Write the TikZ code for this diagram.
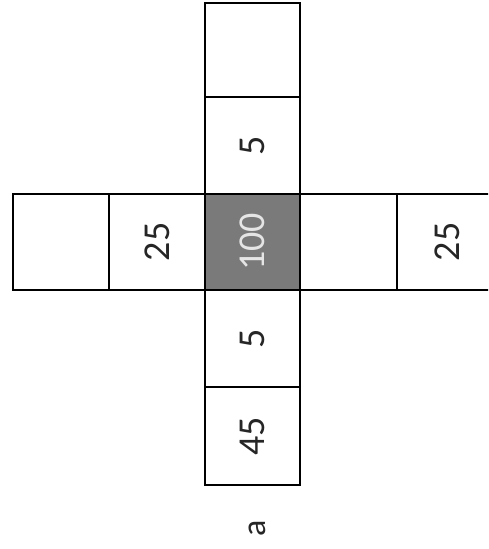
\documentclass[tikz,border=0pt]{standalone}
\usepackage{fontspec}
\setmainfont{Carlito}
\begin{document}
\begin{tikzpicture}[x=1pt,y=-1pt,
  cell/.style={draw=black, line width=1.8pt, minimum width=95pt, inner sep=0pt, outer sep=0pt, font=\fontsize{38}{40}\selectfont, rotate=90, text=black!85},
  dark/.style={fill=black!52, text=black!10}]
\useasboundingbox (0,0) rectangle (488,549);
\clip (0,0) rectangle (488,549);
\fill[white] (0,0) rectangle (488,549);
% column
\node[cell, minimum height=95pt, minimum width=94pt] (c1) at (252.5,50) {};
\node[cell, minimum height=95pt, minimum width=97pt] (c2) at (252.5,145.5) {5};
\node[cell, dark, minimum height=95pt, minimum width=96pt] (c3) at (252.5,242) {100};
\node[cell, minimum height=95pt, minimum width=97pt] (c4) at (252.5,338.5) {5};
\node[cell, minimum height=95pt, minimum width=98pt] (c5) at (252.5,436) {45};
% row
\node[cell, minimum height=96pt, minimum width=96pt] (r1) at (61,242) {};
\node[cell, minimum height=96pt, minimum width=96pt] (r2) at (157,242) {25};
\node[cell, minimum height=97pt, minimum width=96pt] (r4) at (348.5,242) {};
\node[cell, minimum height=100pt, minimum width=96pt] (r5) at (447,242) {25};
\node[font=\fontsize{34}{36}\selectfont, rotate=90, text=black!85, inner sep=0pt] (lab) at (257,528) {a};
\end{tikzpicture}
\end{document}
